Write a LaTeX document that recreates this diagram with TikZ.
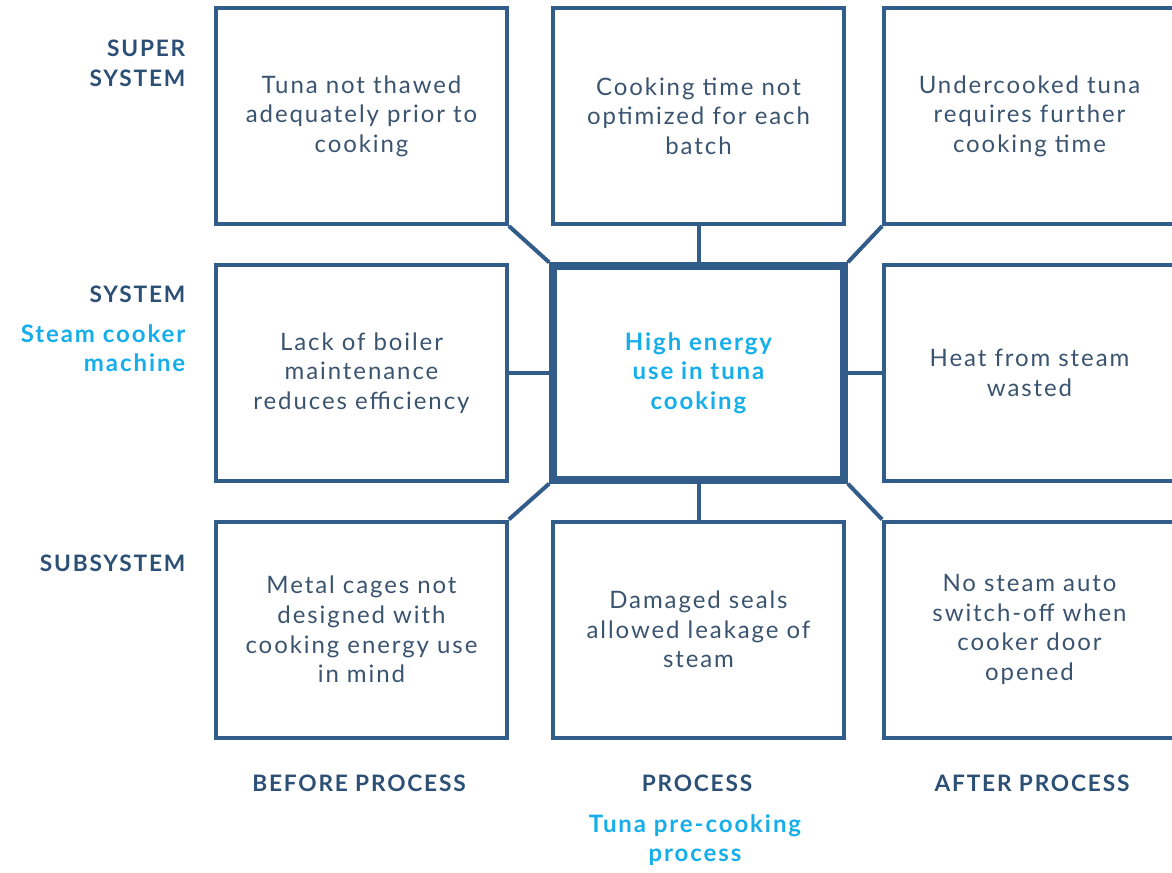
\documentclass[tikz,border=0pt]{standalone}
\usepackage{fontspec}
\setmainfont{Lato}[LetterSpace=8]
\definecolor{boxblue}{RGB}{50,93,138}
\definecolor{txtblue}{RGB}{58,84,112}
\definecolor{headblue}{RGB}{44,79,117}
\definecolor{hicyan}{RGB}{22,174,234}
\begin{document}
\begin{tikzpicture}[x=0.75pt,y=-0.75pt,
  cell/.style={draw=boxblue,line width=3pt,minimum width=218pt,minimum height=162pt,
    align=center,text=txtblue,font=\fontsize{18}{22.2}\selectfont},
  core/.style={cell,line width=6pt,minimum height=160pt,text=hicyan,
    font=\fontsize{18}{22.2}\selectfont\bfseries},
  link/.style={draw=boxblue,line width=3pt},
  head/.style={text=headblue,font=\fontsize{17}{22.5}\selectfont\bfseries},
  sub/.style={text=hicyan,font=\fontsize{18}{22.2}\selectfont\bfseries}]

\useasboundingbox (0,0) rectangle (1172,872);
\clip (0,0) rectangle (1172,872);

% grid of cells:
\node[cell] (tl) at (361.5,116) {Tuna not thawed\\adequately prior to\\cooking};
\node[cell] (tm) at (698.5,116) {Cooking time not\\optimized for each\\batch};
\node[cell] (tr) at (1029.5,116) {Undercooked tuna\\requires further\\cooking time};
\node[cell] (ml) at (361.5,373) {Lack of boiler\\maintenance\\reduces efficiency};
\node[core] (c) at (698.5,373) {High energy\\use in tuna\\cooking};
\node[cell] (mr) at (1029.5,373) {Heat from steam\\wasted};
\node[cell] (bl) at (361.5,629.5) {Metal cages not\\designed with\\cooking energy use\\in mind};
\node[cell] (bm) at (698.5,629.5) {Damaged seals\\allowed leakage of\\steam};
\node[cell] (br) at (1029.5,629.5) {No steam auto\\switch-off when\\cooker door\\opened};

% links to the centre:
\draw[link] (tl.south east) -- (c.north west);
\draw[link] (tm.south) -- (c.north);
\draw[link] (tr.south west) -- (c.north east);
\draw[link] (ml.east) -- (c.west);
\draw[link] (mr.west) -- (c.east);
\draw[link] (bl.north east) -- (c.south west);
\draw[link] (bm.north) -- (c.south);
\draw[link] (br.north west) -- (c.south east);

% row labels:
\node[head,anchor=east,align=right] (super) at (190,63) {SUPER\\SYSTEM};
\node[head,anchor=east] (system) at (190,294) {SYSTEM};
\node[sub,anchor=east,align=right] (machine) at (190,348) {Steam cooker\\machine};
\node[head,anchor=east] (subsys) at (190,563) {SUBSYSTEM};

% column labels:
\node[head] (before) at (359,783) {BEFORE PROCESS};
\node[head] (process) at (697,783) {PROCESS};
\node[head] (after) at (1032,783) {AFTER PROCESS};
\node[sub,align=center] (precook) at (695,840) {Tuna pre-cooking\\process};

\end{tikzpicture}
\end{document}
